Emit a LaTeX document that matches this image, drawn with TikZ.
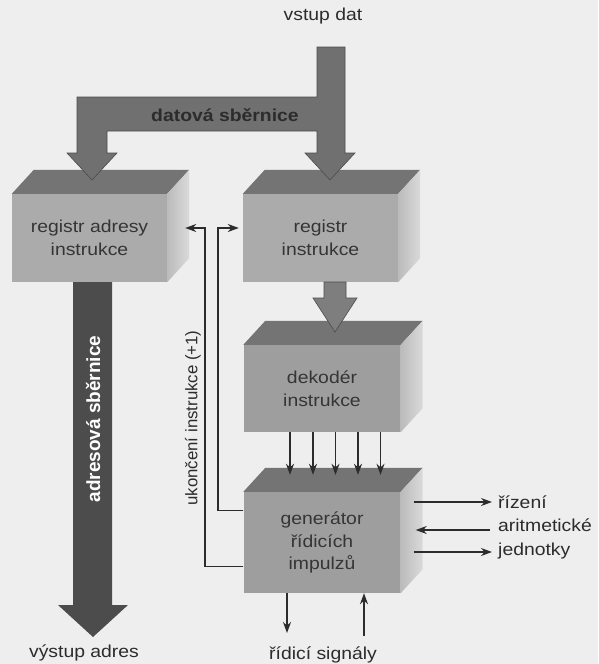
\documentclass[tikz,border=0pt]{standalone}
\usepackage{fontspec}
\setmainfont{Liberation Sans}[FakeStretch=1.12]
\newfontfamily\plainsans{Liberation Sans}
\usetikzlibrary{arrows.meta}
\definecolor{paper}{HTML}{EEEEEE}
\definecolor{ink}{HTML}{2C2C2C}
\definecolor{boxtext}{HTML}{353535}
\definecolor{frontA}{HTML}{ABABAB}
\definecolor{frontB}{HTML}{9E9E9E}
\definecolor{topface}{HTML}{747474}
\definecolor{sideL}{HTML}{BBBBBB}
\definecolor{sideR}{HTML}{DADADA}
\definecolor{busfill}{HTML}{707070}
\definecolor{addrbus}{HTML}{4C4C4C}

% top and right faces of a block whose front face is the node #1
\newcommand\cubefaces[1]{%
  \fill[topface] (#1.north west) -- ([xshift=22pt,yshift=24pt]#1.north west)
    -- ([xshift=22pt,yshift=24pt]#1.north east) -- (#1.north east) -- cycle;
  \shade[left color=sideL,right color=sideR] (#1.north east)
    -- ([xshift=22pt,yshift=24pt]#1.north east)
    -- ([xshift=22pt,yshift=24pt]#1.south east) -- (#1.south east) -- cycle;}

\begin{document}
\begin{tikzpicture}[x=1pt,y=-1pt,
  front/.style={draw=none,fill=frontA,minimum width=155pt,minimum height=88pt,
    inner sep=0pt,align=center,text=boxtext,font=\fontsize{17.3}{22.5}\selectfont},
  lbl/.style={inner sep=0pt,text=ink,font=\fontsize{17.3}{23.5}\selectfont},
  sig/.style={draw=ink,line width=1.3pt,-{Stealth[length=11pt,width=8pt,inset=3.5pt]}},
  fatarrow/.style={fill=busfill,draw=ink!85,line width=0.6pt,line join=miter}]

% paper
\fill[paper] (0,0) rectangle (598,664);
\useasboundingbox (0,0) rectangle (598,664);

% block fronts
\node[front] (rai) at (89.5,238) {registr adresy\\instrukce};
\node[front] (ri) at (320.5,238) {registr\\instrukce};
\node[front,fill=frontB,minimum width=157pt,minimum height=87pt] (dek) at (322,388.5) {dekodér\\instrukce};
\node[front,fill=frontB,minimum width=157pt,minimum height=101pt] (gen) at (322,542.5) {generátor\\řídicích\\impulzů};

\cubefaces{rai}
\cubefaces{ri}
\cubefaces{dek}
\cubefaces{gen}

% data bus
\node[lbl] (vd) at (323,16) {vstup dat};
\draw[fatarrow] (317,47) -- (345,47) -- (345,153) -- (355,153) -- (330,180)
  -- (305,153) -- (317,153) -- (317,131) -- (107,131) -- (107,153) -- (117,153)
  -- (92,180) -- (67,153) -- (77,153) -- (77,97) -- (317,97) -- cycle;
\node[inner sep=0pt,text=ink,font=\fontsize{17.3}{20}\selectfont\bfseries] (db) at (225,115) {datová sběrnice};

% instruction register to decoder
\draw[fatarrow,fill=busfill!90!white] (324,282) -- (346,282) -- (346,298) -- (357,298)
  -- (335,332) -- (313,298) -- (324,298) -- cycle;

% address bus
\fill[addrbus] (73,282) -- (112,282) -- (112,605) -- (128,605) -- (93,637)
  -- (58,605) -- (73,605) -- cycle;
\node[rotate=90,inner sep=0pt,text=white,font=\plainsans\fontsize{19}{19}\selectfont\bfseries] (ab) at (93,419) {adresová sběrnice};
\node[lbl] (va) at (84,653) {výstup adres};

% decoder outputs
\foreach \dx in {-32,-9,13.5,36,58.5}
  \draw[sig] ([xshift=\dx pt]dek.south) -- ([xshift=\dx pt,yshift=17pt]gen.north);

% end of instruction feedback
\coordinate (fbL) at (205,228);
\coordinate (fbR) at (218,228);
\draw[sig] ([yshift=27pt]gen.south west) -| (fbL) -- ([xshift=18pt,yshift=10pt]rai.east);
\draw[sig] ([yshift=-19pt]gen.north west) -| (fbR) -- ([xshift=-4pt,yshift=10pt]ri.west);
\node[rotate=90,inner sep=0pt,text=ink,font=\plainsans\fontsize{16.8}{16.8}\selectfont] (uk) at (193,418) {ukončení instrukce (+1)};

% arithmetic unit control
\node[lbl,anchor=west,align=left] (aru) at (498,527) {řízení\\aritmetické\\jednotky};
\coordinate (o1) at (492,502);
\coordinate (i2) at (490,530);
\coordinate (o3) at (492,552);
\draw[sig] ([xshift=13pt,yshift=40.5pt]gen.east) -- (o1);
\draw[sig] (i2) -- ([xshift=15pt,yshift=12.5pt]gen.east);
\draw[sig] ([xshift=13pt,yshift=-9.5pt]gen.east) -- (o3);

% control signals
\coordinate (sOut) at (287,633);
\coordinate (sIn) at (364,636);
\draw[sig] ([xshift=-35pt]gen.south) -- (sOut);
\draw[sig] (sIn) -- ([xshift=42pt]gen.south);
\node[lbl] (rs) at (323,655) {řídicí signály};
\end{tikzpicture}
\end{document}
